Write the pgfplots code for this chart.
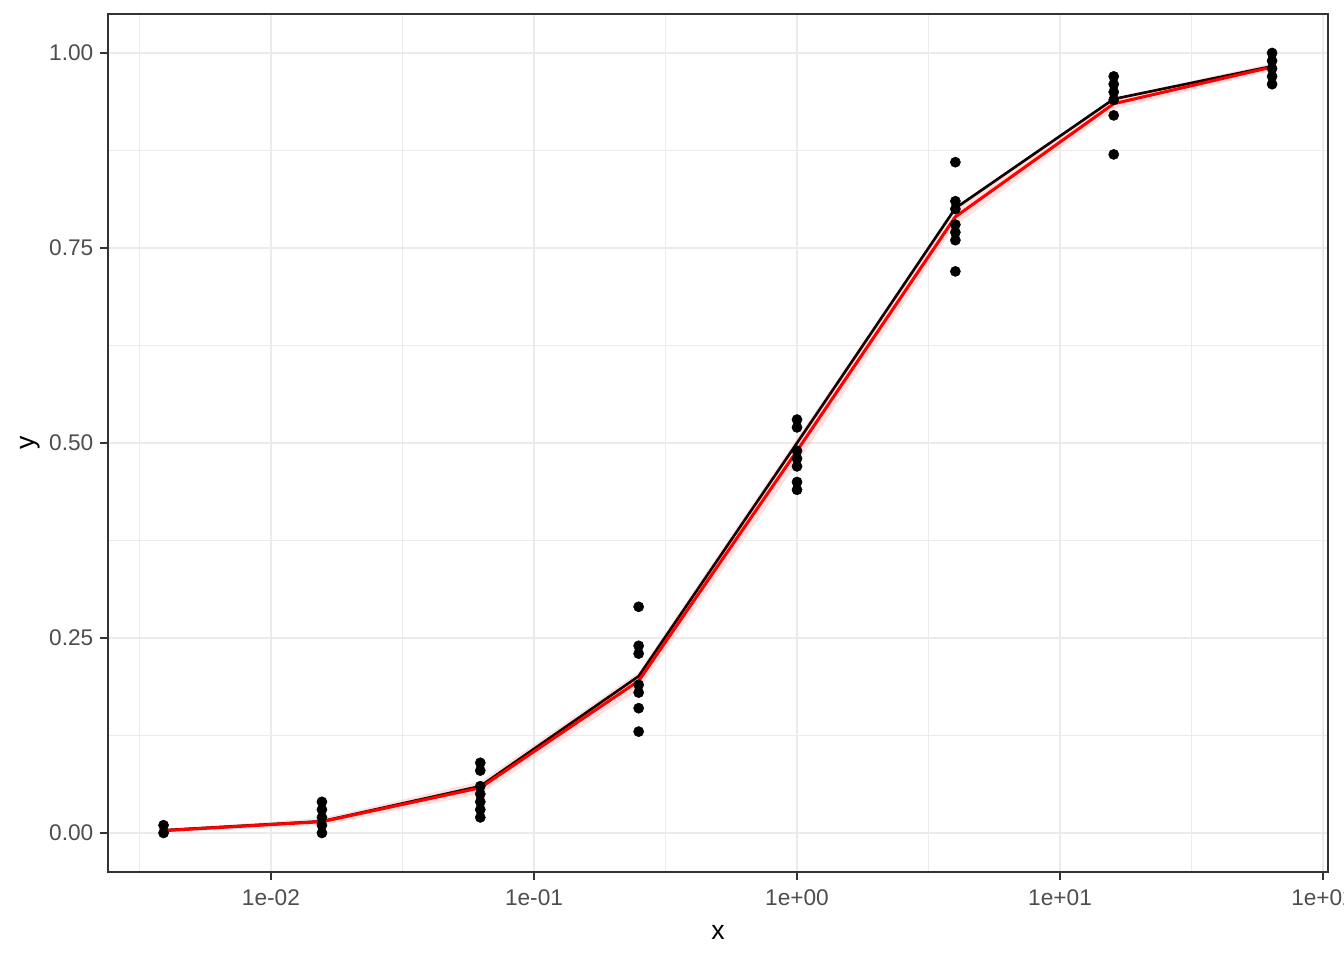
\documentclass[border=0pt]{standalone}
\usepackage{pgfplots}
\pgfplotsset{compat=1.18}
\usepackage{fontspec}
\setmainfont{Liberation Sans}
\usetikzlibrary{calc}
\definecolor{gray30}{HTML}{4D4D4D}
\definecolor{gray20}{HTML}{333333}
\definecolor{gray92}{HTML}{EBEBEB}
\begin{document}
\begin{tikzpicture}
\begin{axis}[
  name=ax,
  scale only axis,
  width=915pt, height=643.5pt,
  xmode=log,
  xmin=0.002401, xmax=104.4,
  ymin=-0.05, ymax=1.05,
  xtick={0.01,0.1,1,10,100},
  xticklabels={1e-02,1e-01,1e+00,1e+01,1e+02},
  minor xtick={0.0031623,0.031623,0.31623,3.1623,31.623},
  ytick={0,0.25,0.5,0.75,1},
  yticklabels={0.00,0.25,0.50,0.75,1.00},
  minor ytick={0.125,0.375,0.625,0.875},
  grid=both,
  major grid style={color=gray92, line width=1.5pt},
  minor grid style={color=gray92, line width=0.8pt},
  tick align=outside,
  xtick pos=bottom, ytick pos=left,
  major tick length=6pt, minor tick length=0pt,
  tick style={color=gray20, line width=1.6pt},
  axis line style={color=gray20, line width=1.6pt},
  ticklabel style={font=\fontsize{17}{19}\selectfont, text=gray30},
  xticklabel style={yshift=-3.5pt},
  yticklabel style={xshift=-1.5pt},
  xlabel={x}, ylabel={y},
  label style={font=\fontsize{20}{22}\selectfont},
  xlabel style={at={(axis description cs:0.5,-0.0699)}, anchor=center},
  ylabel style={at={(axis description cs:-0.0639,0.5)}, anchor=center},
  clip=true,
]
% data points
\addplot[only marks, mark=*, mark size=3.8pt, black] coordinates {
 (0.00390625,0.01) (0.00390625,0.00)
 (0.015625,0.04) (0.015625,0.03) (0.015625,0.02) (0.015625,0.01) (0.015625,0.00)
 (0.0625,0.09) (0.0625,0.08) (0.0625,0.06) (0.0625,0.05) (0.0625,0.04) (0.0625,0.03) (0.0625,0.02)
 (0.25,0.29) (0.25,0.24) (0.25,0.23) (0.25,0.19) (0.25,0.18) (0.25,0.16) (0.25,0.13)
 (1,0.53) (1,0.52) (1,0.49) (1,0.48) (1,0.47) (1,0.45) (1,0.44)
 (4,0.86) (4,0.81) (4,0.80) (4,0.78) (4,0.77) (4,0.76) (4,0.72)
 (16,0.97) (16,0.96) (16,0.95) (16,0.94) (16,0.92) (16,0.87)
 (64,1.00) (64,0.99) (64,0.98) (64,0.97) (64,0.96)
};
% black line
\addplot[black, line width=2pt] coordinates {
 (0.00390625,0.0035) (0.015625,0.015) (0.0625,0.060) (0.25,0.201) (1,0.500) (4,0.801) (16,0.941) (64,0.983)
};
% ribbon
\addplot[draw=none, fill=red, fill opacity=0.12] coordinates {
 (0.00390625,0.005) (0.015625,0.019) (0.0625,0.066) (0.25,0.206) (1,0.506) (4,0.801) (16,0.942) (64,0.987)
 (64,0.977) (16,0.928) (4,0.779) (1,0.474) (0.25,0.184) (0.0625,0.050) (0.015625,0.010) (0.00390625,0.001)
} -- cycle;
% red line
\addplot[red, line width=2.3pt] coordinates {
 (0.00390625,0.003) (0.015625,0.0145) (0.0625,0.058) (0.25,0.195) (1,0.490) (4,0.790) (16,0.935) (64,0.982)
};
\end{axis}
\pgfresetboundingbox
\useasboundingbox ($(ax.south west)+(-81pt,-66pt)$) rectangle ($(ax.north east)+(12pt,10.5pt)$);
\end{tikzpicture}
\end{document}
